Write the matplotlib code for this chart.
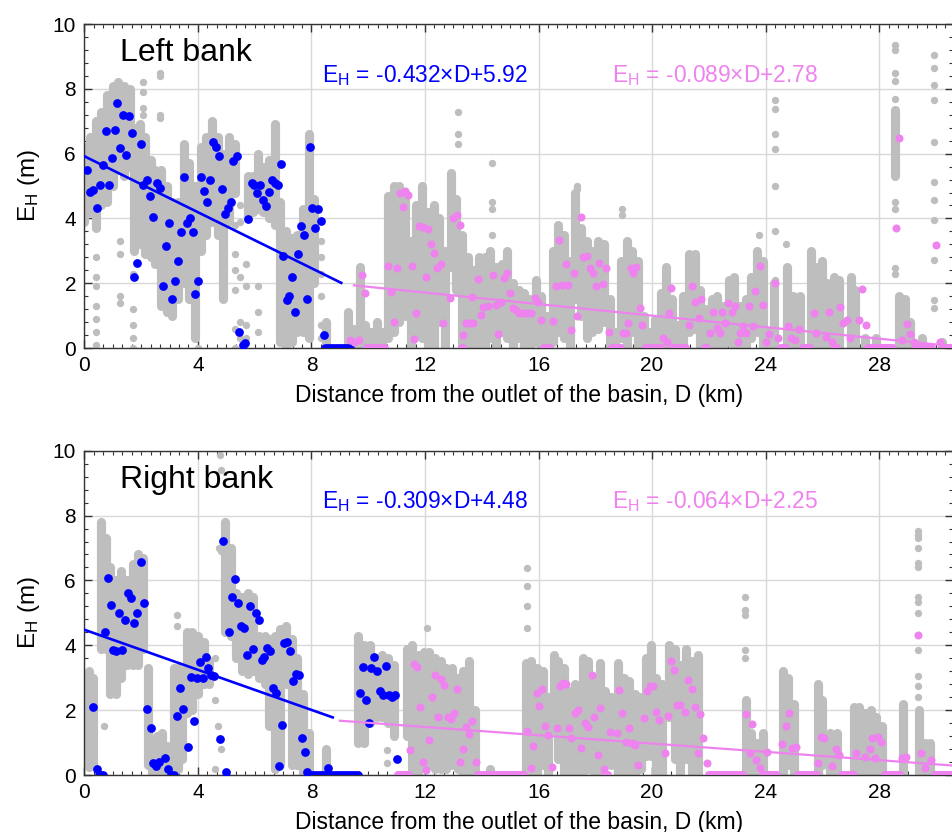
import numpy as np
import matplotlib
matplotlib.use("Agg")
import matplotlib.pyplot as plt
from matplotlib.ticker import MultipleLocator

plt.rcParams['font.family'] = ['Liberation Sans', 'DejaVu Sans']
plt.rcParams['mathtext.default'] = 'regular'

# ---------------- data: top panel (Left bank) ----------------
top_gray_seg_x = [0.0, 0.2, 0.4, 0.6, 0.8, 1.0, 1.2, 1.4, 1.6, 1.75, 1.95, 2.15, 2.35, 2.5, 2.7, 2.9, 3.1, 3.3, 3.5, 3.7,
                  3.9, 4.1, 4.3, 4.5, 4.7, 4.9, 5.1, 5.3, 5.75, 5.95, 6.1, 6.3, 6.5, 6.7, 6.9, 7.1, 7.3, 7.5, 7.7, 7.9,
                  8.1, 8.5, 9.3, 9.5, 9.7, 9.9, 10.1, 10.3, 10.5, 10.7, 10.9, 11.1, 11.3, 11.5, 11.7, 11.9, 12.1, 12.3,
                  12.5, 12.7, 12.9, 13.1, 13.3, 13.5, 13.7, 13.9, 14.1, 14.3, 14.5, 14.7, 14.9, 15.1, 15.3, 15.5, 15.7,
                  15.9, 16.1, 16.3, 16.5, 16.7, 16.9, 17.1, 17.3, 17.5, 17.7, 17.9, 18.1, 18.3, 18.5, 18.7, 18.9, 19.1,
                  19.3, 19.5, 19.7, 19.9, 20.1, 20.3, 20.5, 20.7, 20.9, 21.1, 21.3, 21.5, 21.7, 21.9, 22.1, 22.3, 22.5,
                  22.7, 22.9, 23.1, 23.3, 23.5, 23.7, 23.9, 24.1, 24.3, 24.75, 24.95, 25.2, 25.6, 25.8, 26.0, 26.15,
                  26.4, 26.6, 27.0, 27.15, 27.5, 27.9, 28.55, 28.7, 28.9, 29.1, 29.5, 30.2]
top_gray_seg_lo = [3.9, 4.2, 3.7, 4.4, 4.5, 5.0, 5.5, 5.3, 5.6, 3.0, 3.2, 2.9, 2.8, 2.6, 1.3, 1.1, 1.0, 1.5, 2.0, 1.5,
                   0.3, 3.0, 3.5, 3.9, 3.5, 1.5, 3.9, 4.8, 4.0, 4.2, 4.3, 4.2, 4.0, 3.8, 0.2, 0.0, 0.2, 0.5, 0.5, 0.3,
                   2.0, 0.0, 0.0, 0.0, 0.0, 0.0, 0.0, 0.0, 0.0, 0.3, 0.5, 0.8, 1.0, 0.0, 0.5, 0.3, 0.0, 0.0,
                   0.8, 0.0, 2.5, 1.8, 0.0, 0.0, 0.0, 0.0, 0.0, 0.3, 0.0, 0.5, 0.3, 0.0, 0.3, 0.0, 0.0,
                   0.2, 0.0, 0.0, 0.2, 0.5, 0.3, 0.0, 1.5, 1.0, 0.3, 0.5, 0.6, 0.8, 0.0, 0.0, 0.3, 0.0,
                   0.5, 0.0, 0.0, 0.0, 0.0, 0.0, 0.0, 0.0, 0.0, 0.0, 0.5, 0.6, 0.0, 0.0, 0.0, 0.0, 0.0,
                   0.2, 0.0, 0.0, 0.0, 0.3, 0.5, 0.0, 0.0, 0.0, 0.0, 0.0, 0.0, 0.0, 0.0, 0.0, 0.0,
                   0.0, 0.0, 0.0, 0.0, 0.0, 0.0, 5.3, 0.0, 0.0, 0.0, 0.0, 0.0]
top_gray_seg_hi = [6.2, 6.5, 7.0, 7.3, 7.8, 8.1, 8.2, 8.1, 8.0, 6.8, 6.9, 6.5, 5.8, 5.5, 5.5, 5.0, 4.5, 4.5, 6.3, 5.7,
                   5.0, 6.2, 6.5, 7.0, 6.5, 6.0, 6.5, 6.3, 5.3, 5.3, 6.0, 5.6, 5.8, 6.9, 4.5, 3.6, 3.4, 3.5, 4.3, 6.6,
                   4.6, 0.8, 1.1, 0.6, 2.5, 0.7, 0.5, 0.8, 0.5, 4.7, 5.0, 5.0, 4.8, 3.3, 4.4, 5.0, 4.2, 4.4,
                   4.0, 3.0, 5.4, 4.6, 3.5, 2.8, 2.4, 2.8, 2.8, 3.0, 2.5, 2.6, 3.0, 2.0, 1.8, 1.7, 1.5,
                   2.1, 1.6, 1.0, 3.0, 3.8, 3.5, 2.7, 4.8, 3.7, 3.3, 3.0, 3.3, 3.2, 1.5, 0.5, 2.7, 3.3,
                   3.0, 2.7, 1.0, 0.5, 0.9, 1.7, 2.5, 1.5, 0.7, 1.6, 2.9, 2.9, 1.8, 1.2, 1.5, 1.6, 1.3,
                   2.1, 2.2, 1.3, 1.5, 2.2, 3.0, 2.7, 0.5, 2.0, 2.5, 1.6, 1.6, 3.0, 2.5, 2.7, 2.0,
                   2.2, 2.1, 2.2, 1.8, 0.3, 0.3, 7.35, 1.6, 1.5, 0.8, 0.3, 0.2]
top_gray_pt_x = [0.42] * 7 + [1.25] * 4 + [1.72] * 5 + [2.05] * 4 + [2.65] * 4 + [4.0] + [5.3] * 6 + [5.5] * 5 \
    + [5.7] * 4 + [6.1] * 3 + [8.35] * 6 + [13.15] * 3 + [14.35] * 4 + [17.35] * 2 + [18.95] * 2 + [23.75] \
    + [24.32] * 7 + [24.73] + [28.55] * 9 + [29.93] * 11
top_gray_pt_y = [2.8, 2.2, 1.9, 1.3, 0.9, 0.5, 0.1, 3.3, 2.9, 1.6, 1.4, 2.3, 1.2, 0.7, 0.3, 0.0, 8.2, 7.9, 7.4, 7.2,
                 8.5, 8.4, 7.2, 7.1, 0.0, 3.8, 2.9, 2.4, 1.8, 0.6, 0.0, 4.4, 3.9, 2.2, 0.8, 0.3, 2.6, 1.9, 0.7, 0.3,
                 1.9, 1.1, 0.5, 3.3, 2.8, 2.3, 1.6, 0.7, 0.3, 7.3, 6.6, 6.3, 5.7, 4.5, 4.3, 3.5, 5.0, 4.9, 4.3, 4.1,
                 3.5, 7.65, 7.37, 6.6, 6.13, 5.0, 3.6, 2.1, 3.2, 9.35, 9.2, 8.5, 8.25, 7.7, 4.5, 4.3, 2.47, 2.3,
                 9.04, 8.63, 8.12, 7.65, 6.35, 5.13, 4.57, 3.95, 2.72, 1.48, 1.23]

top_blue_x = [0.11, 0.2, 0.32, 0.44, 0.55, 0.65, 0.76, 0.88, 0.96, 1.08, 1.16, 1.26, 1.35, 1.47, 1.57, 1.67, 1.76,
              1.87, 1.99, 2.08, 2.2, 2.31, 2.43, 2.55, 2.67, 2.76, 2.88, 2.99, 3.09, 3.19, 3.3, 3.39, 3.5, 3.6, 3.72,
              3.82, 3.91, 4.01, 4.12, 4.23, 4.33, 4.43, 4.52, 4.64, 4.74, 4.84, 4.95, 5.05, 5.15, 5.25, 5.37, 5.46,
              5.58, 5.66, 5.77, 5.89, 5.99, 6.09, 6.2, 6.3, 6.4, 6.49, 6.6, 6.71, 6.82, 6.92, 7.01, 7.13, 7.22, 7.32,
              7.42, 7.51, 7.63, 7.73, 7.83, 7.94, 8.03, 8.14, 8.24, 8.35, 8.44]
top_blue_y = [5.49, 4.82, 4.88, 4.31, 5.03, 5.65, 6.71, 5.03, 5.87, 6.73, 7.55, 6.18, 7.19, 5.96, 7.16, 6.65, 2.2,
              2.61, 6.3, 5.03, 5.19, 4.7, 4.05, 5.08, 4.93, 1.91, 3.16, 3.87, 1.5, 2.08, 2.69, 3.59, 5.29, 3.85, 4.0,
              3.59, 1.67, 2.08, 5.27, 4.86, 4.52, 5.19, 6.37, 6.21, 5.94, 4.9, 4.13, 4.31, 4.52, 5.77, 5.93, 0.48,
              0.09, 0.14, 3.98, 5.1, 5.03, 4.77, 5.03, 4.57, 4.39, 4.82, 5.19, 5.1, 5.03, 5.68, 2.84, 1.48, 1.61, 2.2,
              1.12, 2.89, 3.77, 3.49, 1.51, 6.21, 4.31, 3.71, 4.28, 3.93, 0.4]
top_blue_zero_start = [8.48]
top_blue_zero_end = [9.36]

top_pink_x = [9.36, 9.51, 9.68, 9.79, 9.89, 10.68, 10.82, 10.92, 11.0, 11.12, 11.21, 11.29, 11.41, 11.53, 11.62, 11.7,
              11.78, 11.92, 12.02, 12.11, 12.21, 12.32, 12.44, 12.55, 12.65, 12.88, 12.99, 13.11, 13.23, 13.35, 13.44,
              13.56, 13.64, 13.7, 13.87, 13.97, 14.05, 14.23, 14.38, 14.5, 14.58, 14.66, 14.79, 14.89, 15.01, 15.11,
              15.2, 15.32, 15.46, 15.58, 15.75, 15.87, 15.99, 16.08, 16.51, 16.63, 16.72, 16.83, 16.95, 17.04, 17.14,
              17.24, 17.34, 17.48, 17.57, 17.69, 17.81, 17.92, 18.04, 18.13, 18.27, 18.37, 18.49, 18.96, 19.07, 19.15,
              19.24, 19.33, 19.45, 19.57, 19.66, 20.39, 20.51, 20.6, 20.68, 21.3, 21.42, 21.51, 21.66, 21.74, 22.03,
              22.15, 22.27, 22.38, 22.46, 22.58, 22.68, 22.8, 22.91, 23.01, 23.09, 23.2, 23.3, 23.42, 23.54, 23.62,
              23.79, 23.89, 24.0, 24.12, 24.32, 24.44, 24.79, 24.91, 25.02, 25.18, 25.7, 25.79, 26.12, 26.23, 26.35,
              26.61, 26.73, 26.85, 26.96, 27.29, 27.41, 27.52, 28.58, 28.69, 28.82, 28.99, 29.1, 29.23, 30.01, 30.13]
top_pink_y = [0.25, 0.2, 0.25, 2.25, 1.71, 2.53, 1.74, 0.81, 2.46, 4.79, 4.34, 4.86, 4.72, 2.54, 0.27, 1.09,
              3.77, 3.74, 2.2, 3.66, 3.21, 2.94, 2.46, 2.59, 0.76, 1.55, 4.0, 4.1, 3.8, 0.4, 0.78,
              0.78, 1.58, 0.78, 2.12, 1.02, 1.27, 1.3, 2.25, 1.33, 0.42, 1.43, 2.15, 2.32, 1.71, 1.23,
              1.17, 1.09, 1.07, 1.07, 1.07, 1.53, 1.43, 0.86, 0.83, 1.91, 3.33, 1.94, 2.58, 1.94, 0.56,
              2.31, 0.99, 4.05, 2.82, 2.84, 2.48, 2.31, 1.91, 2.61, 1.98, 2.48, 0.48, 0.45, 0.47, 0.78,
              2.48, 2.32, 2.51, 1.23, 0.71, 0.3, 0.2, 1.07, 1.84, 0.71, 1.91, 1.43, 0.92, 1.51, 0.47,
              1.12, 0.61, 0.47, 1.12, 0.78, 1.4, 1.12, 1.3, 0.2, 0.47, 0.68, 0.45, 1.3, 0.68, 1.77,
              2.54, 1.33, 0.2, 0.42, 2.0, 0.3, 0.68, 0.3, 0.25, 0.58, 1.07, 0.47, 0.35, 1.12, 0.2,
              1.27, 0.76, 0.86, 0.3, 0.86, 1.81, 0.71, 3.71, 6.47, 0.25, 0.73, 0.42, 0.2, 3.18, 0.2]
top_pink_zero_start = [9.95, 13.3, 16.2, 18.6, 19.8, 20.75, 21.85, 24.55, 25.3, 26.45, 27.6, 29.3, 30.25]
top_pink_zero_end = [10.6, 13.35, 16.4, 18.9, 20.3, 21.2, 21.95, 24.7, 25.55, 26.5, 28.5, 29.85, 30.6]

# ---------------- data: bottom panel (Right bank) ----------------
bot_gray_seg_x = [0.15, 0.3, 0.6, 0.75, 0.9, 1.1, 1.3, 1.5, 1.7, 1.9, 2.05, 2.25, 2.4, 2.55, 2.75, 2.9, 3.15, 3.3,
                  3.45, 3.6, 3.8, 4.0, 4.2, 4.4, 4.95, 5.15, 5.35, 5.55, 5.75, 5.95, 6.15, 6.35, 6.5, 6.7, 6.9, 7.1,
                  7.3, 7.5, 7.7, 7.9, 8.5, 9.65, 9.85, 10.05, 10.3, 10.5, 10.7, 10.9, 11.35, 11.55, 11.75, 11.95,
                  12.15, 12.35, 12.55, 12.75, 12.95, 13.15, 13.35, 13.55, 13.75, 14.3, 15.55, 15.75, 15.95, 16.15,
                  16.35, 16.55, 16.7, 16.9, 17.1, 17.3, 17.55, 17.75, 17.95, 18.15, 18.35, 18.55, 18.8, 19.0, 19.2,
                  19.4, 19.6, 19.8, 19.95, 20.15, 20.35, 20.6, 20.8, 21.0, 21.2, 21.4, 21.6, 23.3, 23.5, 23.7, 23.9,
                  24.6, 24.8, 25.0, 25.85, 26.0, 26.25, 26.5, 27.1, 27.3, 27.5, 27.7, 27.9, 28.1, 28.85, 29.4, 29.6,
                  29.8]
bot_gray_seg_lo = [0.25, 0.3, 3.9, 3.9, 2.5, 2.5, 3.0, 3.4, 3.4, 3.4, 3.9, 0.3, 0.0, 0.0, 0.0, 0.0, 0.2, 0.2,
                   0.5, 1.9, 2.0, 2.5, 2.8, 2.8, 4.4, 4.3, 3.6, 3.2, 3.1, 3.2, 3.0, 2.8, 1.5, 0.2, 0.3, 2.8,
                   0.3, 0.3, 0.0, 0.0, 0.0, 1.0, 1.0, 1.6, 1.8, 1.8, 1.6, 1.2, 1.2, 0.0, 0.0, 0.3,
                   0.3, 0.2, 0.2, 0.2, 0.3, 0.2, 0.0, 0.0, 0.0, 0.0, 0.0, 0.0, 0.0, 0.3,
                   0.0, 1.4, 0.5, 0.0, 0.0, 0.0, 0.0, 0.2, 0.0, 0.0, 0.3, 0.3, 0.0, 0.0, 0.0,
                   0.0, 0.2, 0.6, 0.6, 0.0, 0.0, 1.8, 0.5, 0.0, 0.5, 0.0, 0.0, 0.0, 0.0, 0.0, 0.0,
                   0.0, 0.3, 0.0, 0.0, 0.3, 0.0, 0.0, 0.0, 0.0, 0.0, 0.0, 0.0, 0.0, 0.0, 0.0, 0.0,
                   0.0]
bot_gray_seg_hi = [3.2, 3.0, 7.8, 7.3, 6.4, 6.0, 6.3, 6.0, 6.5, 6.8, 6.7, 3.3, 1.0, 1.2, 1.3, 0.9, 3.3, 3.3,
                   3.0, 4.4, 4.4, 4.3, 4.1, 3.5, 7.8, 7.0, 5.6, 5.5, 5.6, 5.5, 4.3, 4.3, 4.2, 4.3, 4.5, 4.6,
                   4.2, 3.6, 2.5, 1.3, 0.8, 4.3, 4.0, 4.0, 3.6, 3.7, 3.6, 3.4, 3.9, 4.0, 3.7, 3.8,
                   3.8, 3.6, 3.5, 3.3, 3.3, 3.0, 3.2, 3.5, 2.0, 0.2, 3.45, 3.5, 3.3, 3.2,
                   2.4, 3.7, 3.5, 3.3, 2.6, 2.8, 3.6, 3.5, 3.0, 3.45, 2.6, 2.4, 3.45, 3.0, 2.9,
                   2.5, 2.4, 3.6, 4.0, 3.0, 2.8, 4.0, 3.9, 3.4, 3.9, 3.5, 3.7, 2.3, 1.3, 1.0, 1.3,
                   3.2, 3.0, 2.2, 2.8, 2.3, 1.3, 1.3, 2.1, 2.1, 1.9, 2.0, 1.8, 1.5, 2.2, 2.0, 1.0,
                   1.0]
bot_gray_pt_x = [0.7, 3.25, 3.25, 4.75, 4.8, 4.78, 4.8, 4.6, 4.6, 4.7, 4.8, 4.6, 10.66, 10.66, 12.08] + [15.61] * 4 \
    + [23.27] * 5 + [29.38] * 13
bot_gray_pt_y = [1.5, 4.94, 4.58, 7.0, 6.9, 9.88, 9.4, 3.6, 2.3, 1.5, 0.8, 0.2, 0.77, 0.36, 4.53,
                 6.38, 5.83, 5.22, 4.53, 5.5, 5.09, 4.94, 3.86, 3.6,
                 7.51, 7.41, 7.3, 6.99, 6.53, 6.42, 5.5, 5.34, 5.0, 3.86, 3.04, 2.73, 2.42]

bot_blue_x = [0.32, 0.44, 0.73, 0.82, 0.93, 1.02, 1.11, 1.22, 1.33, 1.43, 1.53, 1.63, 1.75, 1.84, 1.98, 2.1, 2.22,
              2.34, 2.43, 2.52, 2.64, 2.85, 2.96, 3.25, 3.37, 3.46, 3.66, 3.76, 3.86, 3.97, 4.07, 4.17, 4.27, 4.37,
              4.46, 4.57, 4.78, 4.88, 4.99, 5.1, 5.2, 5.32, 5.41, 5.51, 5.61, 5.72, 5.82, 5.93, 6.03, 6.14, 6.25,
              6.34, 6.44, 6.53, 6.63, 6.74, 6.84, 6.95, 7.04, 7.15, 7.24, 7.35, 7.45, 7.56, 7.65, 7.76, 7.85, 8.59,
              9.71, 9.8, 9.91, 10.01, 10.11, 10.21, 10.32, 10.42, 10.53, 10.62, 10.73, 10.83, 10.94, 11.02]
bot_blue_y = [2.11, 0.2, 4.42, 6.07, 5.25, 3.86, 3.83, 4.99, 3.86, 4.78, 5.61, 5.45, 4.68, 5.01, 6.56, 5.3, 2.03,
              1.44, 0.38, 0.28, 0.41, 0.51, 0.2, 1.83, 2.68, 2.03, 0.85, 3.03, 1.67, 2.98, 3.48, 3.0, 3.65, 3.31,
              3.09, 3.06, 1.11, 7.22, 0.1, 4.4, 5.5, 6.05, 5.3, 4.58, 4.53, 3.7, 5.2, 3.88, 4.99, 4.78, 3.55,
              3.65, 3.93, 3.81, 2.68, 2.52, 0.28, 1.54, 4.08, 4.1, 3.83, 2.9, 3.11, 3.09, 1.15, 0.72, 0.1, 0.23,
              2.52, 3.34, 2.31, 1.61, 3.29, 3.65, 3.22, 2.6, 2.47, 3.37, 2.47, 2.42, 2.47, 0.49]
bot_blue_zero_start = [0.2, 0.53, 2.76, 3.05, 3.57, 4.66, 7.9]
bot_blue_zero_end = [0.2, 0.64, 2.76, 3.15, 3.57, 4.66, 9.65]

bot_pink_x = [11.47, 11.62, 11.72, 11.82, 11.94, 12.03, 12.14, 12.24, 12.35, 12.46, 12.57, 12.68, 12.8, 12.9, 13.02,
              13.12, 13.25, 13.35, 13.46, 13.56, 13.67, 13.78, 15.61, 15.72, 15.81, 15.93, 16.02, 16.13, 16.23, 16.35,
              16.46, 16.66, 16.75, 16.85, 16.96, 17.07, 17.16, 17.28, 17.39, 17.5, 17.63, 17.75, 17.87, 17.97, 18.1,
              18.18, 18.3, 18.53, 18.75, 18.85, 18.94, 19.07, 19.19, 19.3, 19.4, 19.51, 19.71, 19.81, 19.92, 20.02,
              20.13, 20.25, 20.46, 20.56, 20.67, 20.76, 20.88, 20.98, 21.16, 21.28, 21.39, 21.5, 21.61, 21.7, 21.81,
              21.92, 23.32, 23.44, 23.53, 23.65, 23.79, 24.05, 24.59, 24.71, 24.82, 24.94, 25.06, 25.85, 25.96, 26.06,
              26.35, 26.47, 26.58, 27.2, 27.49, 27.67, 27.73, 27.84, 27.96, 28.08, 28.82, 28.93, 29.37, 29.49, 29.6,
              29.84]
bot_pink_y = [0.77, 3.43, 3.34, 2.09, 0.41, 0.15, 1.08, 2.4, 3.09, 1.78, 2.95, 2.78, 1.78, 1.72, 1.9,
              2.64, 0.41, 0.79, 1.49, 1.26, 1.68, 0.41, 1.36, 0.21, 0.9, 2.54, 2.13, 2.64, 1.51, 1.23,
              0.26, 1.44, 2.73, 2.85, 2.8, 1.44, 1.13, 1.9, 2.01, 0.82, 1.61, 1.49, 3.09, 1.8, 0.62,
              2.06, 0.18, 1.34, 1.29, 2.62, 1.9, 1.03, 1.44, 0.98, 0.93, 0.31, 1.75, 2.59, 2.75, 2.75,
              1.95, 1.7, 0.67, 1.82, 3.5, 3.24, 2.16, 2.16, 1.95, 2.93, 2.64, 2.11, 0.67, 1.88, 1.13,
              0.36, 1.88, 0.69, 1.57, 0.46, 0.21, 0.72, 0.96, 1.51, 1.92, 0.82, 0.87, 0.38, 1.18, 1.15,
              0.28, 0.79, 0.62, 0.67, 0.56, 0.79, 1.13, 0.51, 1.18, 1.03, 0.51, 0.56, 4.32, 0.67, 0.21,
              0.46]
bot_pink_zero_start = [0.0, 11.05, 13.85, 18.35, 22.0, 23.9, 25.15, 26.7, 28.2, 29.95]
bot_pink_zero_end = [0.0, 11.45, 15.5, 18.45, 23.2, 24.4, 25.8, 27.1, 28.75, 30.6]

# regression fits: (slope, intercept, D start, D end)
fits_blue = [(-0.432, 5.92, 0.0, 9.05), (-0.309, 4.48, 0.0, 8.75)]
fits_pink = [(-0.089, 2.78, 9.5, 30.6), (-0.064, 2.25, 9.0, 30.6)]
panel_titles = ["Left bank", "Right bank"]

GRAY = '#bebebe'
BLUE = '#0000ff'
PINK = '#ee82ee'
XMAX = 30.6

fig = plt.figure(figsize=(9.53, 8.32), dpi=100)
positions = [[0.0885, 0.5817, 0.9115, 0.3894], [0.0885, 0.0685, 0.9115, 0.3898]]

panels = [
    (top_gray_seg_x, top_gray_seg_lo, top_gray_seg_hi, top_gray_pt_x, top_gray_pt_y,
     top_blue_x, top_blue_y, top_blue_zero_start, top_blue_zero_end,
     top_pink_x, top_pink_y, top_pink_zero_start, top_pink_zero_end),
    (bot_gray_seg_x, bot_gray_seg_lo, bot_gray_seg_hi, bot_gray_pt_x, bot_gray_pt_y,
     bot_blue_x, bot_blue_y, bot_blue_zero_start, bot_blue_zero_end,
     bot_pink_x, bot_pink_y, bot_pink_zero_start, bot_pink_zero_end),
]

gray_seg_w = 6.6   # stripe width in points (dense clouds of gray dots)
gray_pt = 5.3      # dot diameter in points
blue_pt = 6.3
pink_pt = 5.8

for i, (gsx, gslo, gshi, gpx, gpy, bx, by, bzs, bze, px, py, pzs, pze) in enumerate(panels):
    ax = fig.add_axes(positions[i])
    ax.set_xlim(0, XMAX)
    ax.set_ylim(0, 10)
    ax.grid(True, which='major', color='#d8d8d8', lw=1.0, zorder=0)
    ax.set_axisbelow(True)

    ax.vlines(gsx, gslo, gshi, colors=GRAY, lw=gray_seg_w, capstyle='round', zorder=2)
    ax.scatter(gpx, gpy, s=gray_pt ** 2, color=GRAY, lw=0, zorder=2)

    ax.hlines([0] * len(bzs), bzs, bze, colors=BLUE, lw=blue_pt, capstyle='round', zorder=3)
    ax.scatter(bx, by, s=blue_pt ** 2, color=BLUE, lw=0, zorder=3)
    ax.hlines([0] * len(pzs), pzs, pze, colors=PINK, lw=pink_pt, capstyle='round', zorder=3)
    ax.scatter(px, py, s=pink_pt ** 2, color=PINK, lw=0, zorder=3)

    sb, ib, xb0, xb1 = fits_blue[i]
    xs = np.array([xb0, xb1])
    ax.plot(xs, sb * xs + ib, color=BLUE, lw=1.9, zorder=4)
    sp, ip, xp0, xp1 = fits_pink[i]
    xs = np.array([xp0, xp1])
    ax.plot(xs, sp * xs + ip, color=PINK, lw=1.6, zorder=4)

    ax.text(8.37, 8.22, r'$E_H$ = %.3f$\times$D+%.2f' % (sb, ib), color=BLUE, fontsize=16.4,
            ha='left', va='baseline', zorder=6)
    ax.text(18.58, 8.22, r'$E_H$ = %.3f$\times$D+%.2f' % (sp, ip), color=PINK, fontsize=16.4,
            ha='left', va='baseline', zorder=6)
    ax.text(1.26, 8.85, panel_titles[i], color='black', fontsize=23, ha='left', va='baseline', zorder=6)

    ax.xaxis.set_major_locator(MultipleLocator(4))
    ax.xaxis.set_minor_locator(MultipleLocator(4 / 12))
    ax.yaxis.set_major_locator(MultipleLocator(2))
    ax.yaxis.set_minor_locator(MultipleLocator(0.4))
    ax.tick_params(which='both', direction='in', top=True, right=True, colors='#333333',
                   labelcolor='black', labelsize=15)
    ax.tick_params(which='major', length=6, width=1.0, pad=6)
    ax.tick_params(which='minor', length=3, width=0.8)
    for s in ax.spines.values():
        s.set_color('#333333')
        s.set_linewidth(1.0)
    ax.set_xlabel('Distance from the outlet of the basin, D (km)', fontsize=16.5, labelpad=6)
    ax.set_ylabel(r'$E_H$ (m)', fontsize=17.5, labelpad=8)

fig.savefig('out.png', dpi=100)
